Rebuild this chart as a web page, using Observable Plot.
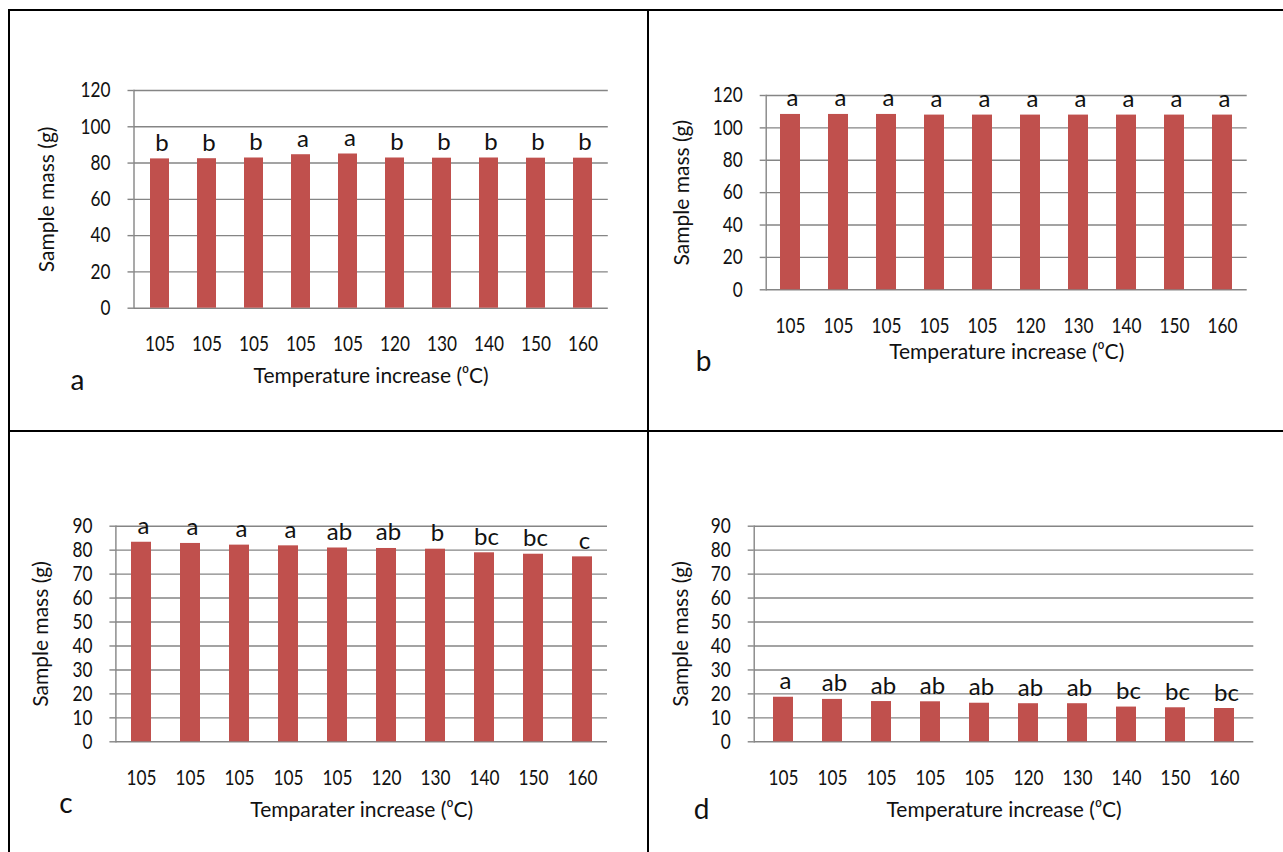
<!DOCTYPE html>
<html>
<head>
<meta charset="utf-8">
<script src="https://cdn.jsdelivr.net/npm/d3@7"></script>
<script src="https://cdn.jsdelivr.net/npm/@observablehq/plot@0.6"></script>
<style>
  html, body { margin: 0; padding: 0; background: #fff; }
  #page { position: relative; width: 1283px; height: 852px; overflow: hidden; background: #fff; }
  .rule { position: absolute; background: #000; }
  .panel { position: absolute; }
  .panel svg { display: block; }
</style>
</head>
<body>
<div id="page">
  <div class="rule" style="left:8px; top:9px; width:1275px; height:2px;"></div>
  <div class="rule" style="left:8px; top:9px; width:2px; height:843px;"></div>
  <div class="rule" style="left:647px; top:9px; width:2px; height:843px;"></div>
  <div class="rule" style="left:8px; top:430px; width:1275px; height:2px;"></div>
</div>
<script>
// Temperature steps (°C) along the x axis, shared by all four panels
const categories = ["105", "105", "105", "105", "105", "120", "130", "140", "150", "160"];

// Sample mass (g) at each step, with significance letters
const massA = [82.3, 82.4, 82.8, 84.6, 85.0, 82.8, 82.7, 82.8, 82.7, 82.7];
const lettersA = ["b", "b", "b", "a", "a", "b", "b", "b", "b", "b"];

const massB = [108.3, 108.3, 108.3, 107.9, 107.9, 107.9, 107.9, 107.9, 107.9, 107.9];
const lettersB = ["a", "a", "a", "a", "a", "a", "a", "a", "a", "a"];

const massC = [83.3, 82.8, 82.1, 81.8, 80.9, 80.7, 80.4, 78.9, 78.3, 77.2];
const lettersC = ["a", "a", "a", "a", "ab", "ab", "b", "bc", "bc", "c"];

const massD = [18.6, 17.7, 16.8, 16.7, 16.1, 15.9, 15.9, 14.5, 14.2, 13.9];
const lettersD = ["a", "ab", "ab", "ab", "ab", "ab", "ab", "bc", "bc", "bc"];

// y-axis tick values
const ticks120 = [0, 20, 40, 60, 80, 100, 120];
const ticks90 = [0, 10, 20, 30, 40, 50, 60, 70, 80, 90];

const xTitle = "Temperature increase (\u2070C)";
const xTitleC = "Temparater increase (\u2070C)";
const yTitle = "Sample mass (g)";

const FONT = "Lato, 'Open Sans', sans-serif";
const BAR = "#C0504D";
const GRID = "#858585";
const INK = "#111";
const DIGIT_SQUEEZE = 0.82; // tick numerals are set in a narrow cut

function panel(cfg) {
  const data = cfg.mass.map((v, i) => ({i, v, label: cfg.letters[i]}));
  const ymax = cfg.ticks[cfg.ticks.length - 1];
  return Plot.plot({
    width: cfg.width,
    height: cfg.height,
    marginLeft: cfg.ml,
    marginRight: cfg.mr,
    marginTop: cfg.mt,
    marginBottom: cfg.mb,
    style: {fontFamily: FONT, background: "transparent", overflow: "visible"},
    x: {type: "band", domain: d3.range(categories.length), paddingInner: 0.59, paddingOuter: 0.295, axis: null},
    y: {domain: [0, ymax], axis: null},
    marks: [
      Plot.ruleY(cfg.ticks, {stroke: GRID, strokeWidth: 1.4}),
      Plot.frame({anchor: "left", stroke: GRID, strokeWidth: 1.4}),
      Plot.barY(data, {x: "i", y: "v", fill: BAR}),
      Plot.axisY({ticks: cfg.ticks, tickSize: 6, tickPadding: 17.5, stroke: GRID, strokeWidth: 1.4, fill: INK, fontSize: 21, label: null}),
      Plot.axisX({tickSize: 0, tickPadding: 0, tickFormat: (i) => categories[i], fill: INK, fontSize: 21, label: null, lineAnchor: "middle", dy: 36}),
      Plot.text(data, {x: "i", y: "v", text: "label", dy: -8, dx: 2, lineAnchor: "bottom", fontSize: 24, fill: INK}),
      Plot.text([cfg.xTitle], {frameAnchor: "bottom", dy: cfg.xTitleDy, lineAnchor: "middle", textAnchor: "middle", fontSize: 21, fill: INK}),
      Plot.text([yTitle], {frameAnchor: "left", rotate: -90, dx: cfg.yTitleDx, lineAnchor: "middle", textAnchor: "middle", fontSize: 21, fill: INK}),
      Plot.text([cfg.tag], {frameAnchor: "bottom-left", dx: cfg.tagDx, dy: cfg.tagDy, lineAnchor: "middle", textAnchor: "middle", fontSize: 28, fill: INK})
    ]
  });
}

const page = document.getElementById("page");
function place(el, left, top) {
  const wrap = document.createElement("div");
  wrap.className = "panel";
  wrap.style.left = left + "px";
  wrap.style.top = top + "px";
  wrap.appendChild(el);
  page.appendChild(wrap);
  // narrow the numerals of both axes
  el.querySelectorAll('g[aria-label="x-axis tick label"] text, g[aria-label="y-axis tick label"] text').forEach((t) => {
    const len = t.getComputedTextLength();
    t.setAttribute("textLength", (len * DIGIT_SQUEEZE).toFixed(2));
    t.setAttribute("lengthAdjust", "spacingAndGlyphs");
  });
}

place(panel({
  mass: massA, letters: lettersA, ticks: ticks120, tag: "a", xTitle,
  width: 648, height: 431, ml: 133.5, mr: 40.2, mt: 90, mb: 123.3,
  xTitleDy: 68, yTitleDx: -86.8, tagDx: -56.5, tagDy: 72.5
}), 0, 0);

place(panel({
  mass: massB, letters: lettersB, ticks: ticks120, tag: "b", xTitle,
  width: 635, height: 431, ml: 117.7, mr: 36.3, mt: 95, mb: 141.7,
  xTitleDy: 62.5, yTitleDx: -84, tagDx: -62.7, tagDy: 72.4
}), 648, 0);

place(panel({
  mass: massC, letters: lettersC, ticks: ticks90, tag: "c", xTitle: xTitleC,
  width: 648, height: 421, ml: 115.4, mr: 41, mt: 94.7, mb: 110.7,
  xTitleDy: 68.7, yTitleDx: -74.6, tagDx: -49.9, tagDy: 62.4
}), 0, 431);

place(panel({
  mass: massD, letters: lettersD, ticks: ticks90, tag: "d", xTitle,
  width: 635, height: 421, ml: 105.7, mr: 29.7, mt: 94.7, mb: 110.7,
  xTitleDy: 68.7, yTitleDx: -72.9, tagDx: -52.7, tagDy: 68.4
}), 648, 431);
</script>
</body>
</html>
